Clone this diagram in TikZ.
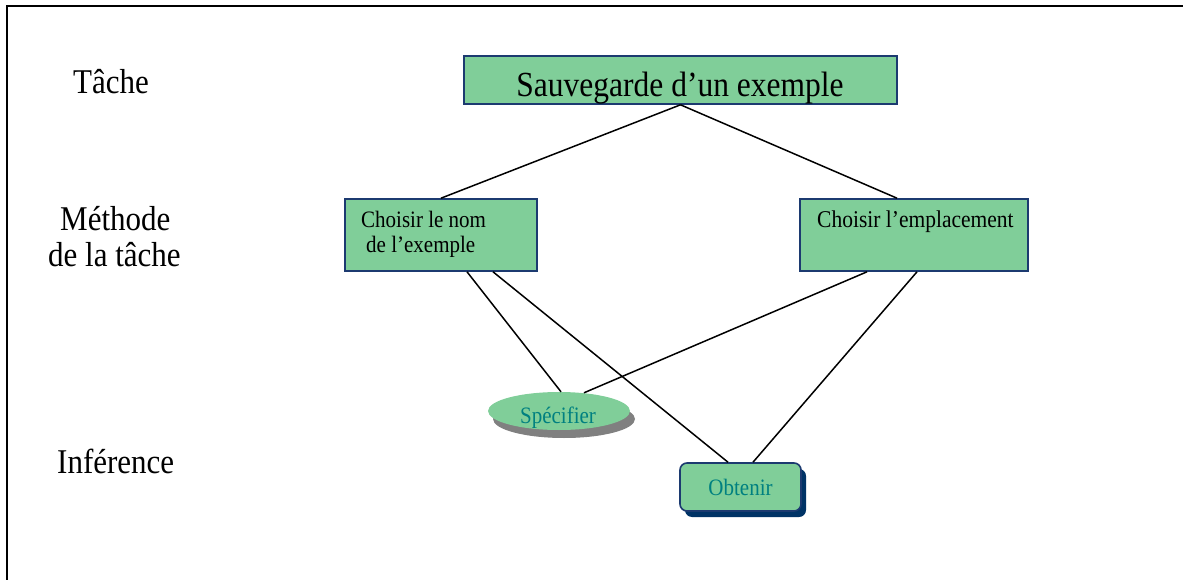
\documentclass[tikz,border=0pt]{standalone}
\usepackage{fontspec}
\setmainfont{Liberation Serif}
\usetikzlibrary{shapes.geometric,shadows}

\definecolor{boxgreen}{RGB}{128,206,153}
\definecolor{boxline}{RGB}{28,58,112}
\definecolor{infteal}{RGB}{0,128,128}
\definecolor{navyshadow}{RGB}{0,51,102}
\definecolor{greyshadow}{RGB}{128,128,128}

% slightly taller lettering
\newcommand{\tall}[1]{\scalebox{1}[1.12]{#1}}

\begin{document}
\begin{tikzpicture}[x=1pt,y=-1pt,
  levelbox/.style={draw=boxline, line width=1.6pt, fill=boxgreen, inner sep=0pt},
  lvltext/.style={anchor=base west, inner sep=0pt, font=\fontsize{31}{36}\selectfont},
  boxtext/.style={anchor=base west, inner sep=0pt, font=\fontsize{21}{25}\selectfont},
  inftext/.style={inner sep=0pt, text=infteal, font=\fontsize{21}{25}\selectfont},
  link/.style={line width=1.5pt, black}]

\useasboundingbox (0,0) rectangle (1183,580);

% frame
\draw[line width=2.5pt] (1183,6) -- (7,6) -- (7,580);

% level captions
\node[lvltext] (capTask) at (73,94) {\tall{Tâche}};
\node[lvltext] (capMethA) at (60,230) {\tall{Méthode}};
\node[lvltext] (capMethB) at (48,266) {\tall{de la tâche}};
\node[lvltext] (capInf) at (57,473) {\tall{Inférence}};

% task
\node[levelbox, minimum width=433pt, minimum height=48pt] (task) at (680.5,80) {};
\begin{scope}
  \clip ([xshift=1pt,yshift=1pt]task.south west) rectangle ([xshift=-1pt,yshift=-1pt]task.north east);
  \node[anchor=base, inner sep=0pt, font=\fontsize{31.5}{36}\selectfont] (taskText) at (680,97) {\tall{Sauvegarde d’un exemple}};
\end{scope}

% methods
\node[levelbox, minimum width=192pt, minimum height=72pt] (methName) at (441,235) {};
\node[boxtext] (methNameA) at (361,228) {\tall{Choisir le nom}};
\node[boxtext] (methNameB) at (366,252) {\tall{de l’exemple}};

\node[levelbox, minimum width=228pt, minimum height=72pt] (methPlace) at (914,235) {};
\node[boxtext, font=\fontsize{21.5}{25}\selectfont] (methPlaceA) at (817,227) {\tall{Choisir l’emplacement}};

% inferences
\node[ellipse, fill=boxgreen, inner sep=0pt, minimum width=142pt, minimum height=38pt,
      drop shadow={shadow xshift=5pt, shadow yshift=-8pt, fill=greyshadow, opacity=1}] (spec) at (559,411) {};
\node[inftext, anchor=base] (specText) at (558,423) {\tall{Spécifier}};

\node[levelbox, rounded corners=7pt, minimum width=121pt, minimum height=48pt,
      drop shadow={shadow xshift=5pt, shadow yshift=-6pt, fill=navyshadow, opacity=1},
      inftext, inner sep=0pt] (obt) at (740.5,487) {\tall{Obtenir}};

% links
\draw[link] (task.south) -- (methName.north);
\draw[link] (task.south) -- ([xshift=-17pt]methPlace.north);
\draw[link] ([xshift=26pt]methName.south) -- ([xshift=2pt]spec.north);
\draw[link] ([xshift=52pt]methName.south) -- ([xshift=-12.5pt]obt.north);
\draw[link] ([xshift=-47pt]methPlace.south) -- ([xshift=25pt,yshift=-1pt]spec.north);
\draw[link] ([xshift=3pt]methPlace.south) -- ([xshift=12.5pt]obt.north);
\end{tikzpicture}
\end{document}
